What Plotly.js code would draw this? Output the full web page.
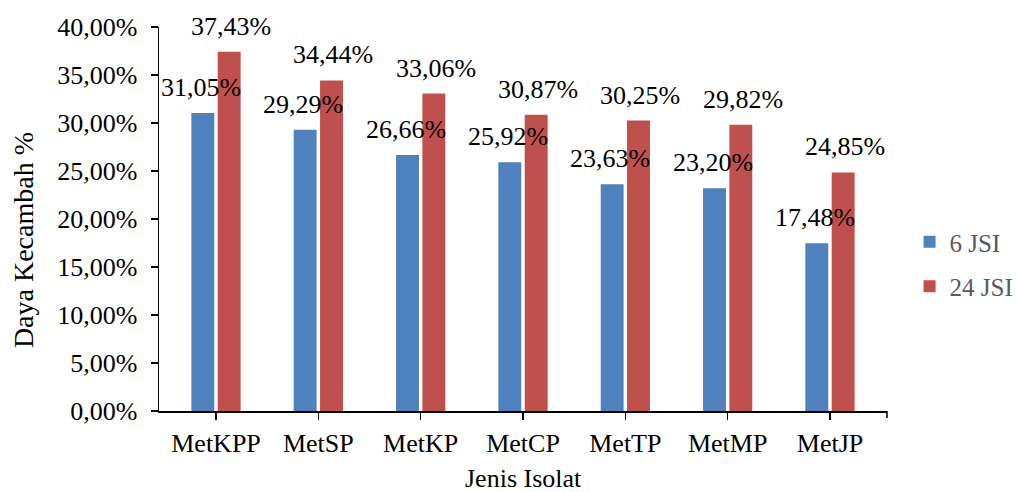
<!DOCTYPE html>
<html>
<head>
<meta charset="utf-8">
<script src="https://cdn.plot.ly/plotly-3.0.1.min.js"></script>
<style>html,body{margin:0;padding:0;background:#fff;}#chart{width:1019px;height:492px;}</style>
</head>
<body>
<div id="chart"></div>
<script>
const categories = ["MetKPP", "MetSP", "MetKP", "MetCP", "MetTP", "MetMP", "MetJP"];
const series6 = [31.05, 29.29, 26.66, 25.92, 23.63, 23.20, 17.48];
const series24 = [37.43, 34.44, 33.06, 30.87, 30.25, 29.82, 24.85];
const seriesNames = ["6 JSI", "24 JSI"];
const xTitle = "Jenis Isolat";
const yTitle = "Daya Kecambah %";

const fmt = v => v.toFixed(2).replace('.', ',') + '%';
const serif = '"Liberation Serif", "Times New Roman", serif';
const LABEL_SIZE = 26;

const traces = [
  {type: 'bar', name: seriesNames[0], x: categories, y: series6, legendgroup: 'a',
   marker: {color: '#4F81BD'}, hoverinfo: 'none'},
  {type: 'bar', name: seriesNames[1], x: categories, y: series24, legendgroup: 'b',
   marker: {color: '#C0504D'}, hoverinfo: 'none'}
];

const annotations = [];
[[series6, -15], [series24, 15]].forEach(([vals, shift]) => {
  vals.forEach((v, i) => {
    annotations.push({x: categories[i], y: v, xref: 'x', yref: 'y', text: fmt(v),
      showarrow: false, xanchor: 'center', yanchor: 'bottom', xshift: shift, yshift: 9,
      font: {family: serif, size: LABEL_SIZE, color: '#000'}});
  });
});
annotations.push({text: xTitle, xref: 'paper', yref: 'paper', x: 0.5, y: -0.177,
  xanchor: 'center', yanchor: 'middle', showarrow: false,
  font: {family: serif, size: 26, color: '#000'}});
annotations.push({text: yTitle, xref: 'paper', yref: 'paper', x: (23 - 159) / 728, y: 0.445,
  xanchor: 'center', yanchor: 'middle', textangle: -90, showarrow: false,
  font: {family: serif, size: 28, color: '#000'}});

const layout = {
  width: 1019, height: 492,
  margin: {l: 159, r: 132, t: 27, b: 81, autoexpand: false},
  paper_bgcolor: '#fff', plot_bgcolor: '#fff',
  separators: ',.',
  barmode: 'group', bargap: 0.485, bargroupgap: 0.13,
  font: {family: serif, size: 26, color: '#000'},
  showlegend: true,
  legend: {x: 1.031, y: 0.3825, xanchor: 'left', yanchor: 'middle', tracegroupgap: 9,
           font: {family: serif, size: 25, color: '#595959'}, itemwidth: 30},
  xaxis: {
    type: 'category', showline: true, linecolor: '#000', linewidth: 1.5,
    ticks: 'outside', ticklen: 7, tickcolor: '#000', tickwidth: 1.5,
    ticklabelstandoff: 1,
    tickfont: {family: serif, size: 26, color: '#000'},
    showgrid: false, zeroline: false, fixedrange: true
  },
  yaxis: {
    range: [0, 40], dtick: 5, tick0: 0, tickformat: '.2f', ticksuffix: '%',
    showline: true, linecolor: '#000', linewidth: 1.5,
    ticks: 'outside', ticklen: 7, tickcolor: '#000', tickwidth: 1.5,
    ticklabelstandoff: 8,
    tickfont: {family: serif, size: 26, color: '#000'},
    showgrid: false, zeroline: false, fixedrange: true
  },
  annotations: annotations,
  shapes: [
    {type: 'line', xref: 'paper', yref: 'paper', xsizemode: 'pixel', xanchor: 1, x0: 0, x1: 0,
     ysizemode: 'pixel', yanchor: 0, y0: 0, y1: -7, line: {color: '#000', width: 1.5}}
  ]
};

Plotly.newPlot('chart', traces, layout, {displayModeBar: false, staticPlot: true});
</script>
</body>
</html>
